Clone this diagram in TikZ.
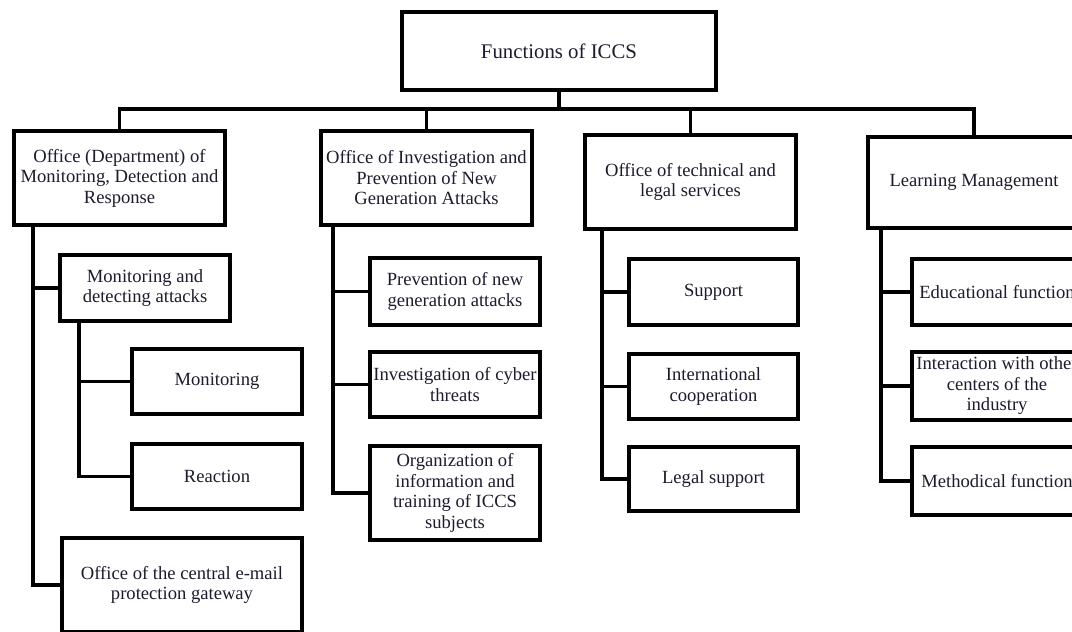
\documentclass[tikz,border=0pt]{standalone}
\usepackage{fontspec}
\setmainfont{Liberation Serif}
\usetikzlibrary{calc,shadows}
\definecolor{txt}{RGB}{28,28,45}
\definecolor{shd}{RGB}{170,190,230}
\begin{document}
\begin{tikzpicture}[x=1pt,y=-1pt,
  box/.style={draw=black, line width=4pt, fill=white, text=txt, align=center, inner sep=2pt,
    font=\fontsize{18.6}{20.5}\selectfont,
    drop shadow={opacity=0.35, fill=shd, shadow xshift=1.5pt, shadow yshift=-2pt}},
  link/.style={draw=black, line width=3.6pt, line cap=rect}]
\useasboundingbox (0,0) rectangle (1072,632);
\clip (0,0) rectangle (1072,632);
\fill[white] (0,0) rectangle (1072,632);

% top
\node[box, minimum width=314pt, minimum height=78pt, font=\fontsize{20.8}{23}\selectfont] (title) at (559,51) {Functions of ICCS};

% level 1
\node[box, minimum width=211pt, minimum height=94pt] (c1) at (119.5,178) {Office (Department) of\\Monitoring, Detection and\\Response};
\node[box, minimum width=211pt, minimum height=94pt] (c2) at (426.5,178) {Office of Investigation and\\Prevention of New\\Generation Attacks};
\node[box, minimum width=211pt, minimum height=94pt] (c3) at (690.5,182) {Office of technical and\\legal services};
\node[box, minimum width=212pt, minimum height=91pt] (c4) at (974,182.5) {Learning Management};

% column 1
\node[box, minimum width=170pt, minimum height=66pt] (m1) at (145,288) {Monitoring and\\detecting attacks};
\node[box, minimum width=170pt, minimum height=65pt] (mon) at (217,381.5) {Monitoring};
\node[box, minimum width=170pt, minimum height=65pt] (rea) at (217,476.5) {Reaction};
\node[box, minimum width=240pt, minimum height=94pt] (email) at (182,585) {Office of the central e-mail\\protection gateway};

% column 2
\node[box, minimum width=170pt, minimum height=67pt] (p1) at (455,291.5) {Prevention of new\\generation attacks};
\node[box, minimum width=170pt, minimum height=65pt] (p2) at (455,384.5) {Investigation of cyber\\threats};
\node[box, minimum width=170pt, minimum height=94pt] (p3) at (455,493) {Organization of\\information and\\training of ICCS\\subjects};

% column 3
\node[box, minimum width=169pt, minimum height=66pt] (s1) at (713.5,292) {Support};
\node[box, minimum width=169pt, minimum height=65pt] (s2) at (713.5,386.5) {International\\cooperation};
\node[box, minimum width=169pt, minimum height=64pt] (s3) at (713.5,479) {Legal support};

% column 4
\node[box, minimum width=170pt, minimum height=66pt] (l1) at (997,292) {Educational function};
\node[box, minimum width=170pt, minimum height=68pt] (l2) at (997,386) {Interaction with other\\centers of the\\industry};
\node[box, minimum width=170pt, minimum height=68pt] (l3) at (997,481) {Methodical function};

% trunk coordinates
\coordinate (bus) at (559,109);
\coordinate (t1) at (33,0);
\coordinate (t1b) at (79,0);
\coordinate (t2) at (333,0);
\coordinate (t3) at (602,0);
\coordinate (t4) at (881,0);

% top bus
\draw[link] (title.south) -- (bus);
\draw[link] (c1.north) -- (c1.north |- bus) -- (c4.north |- bus) -- (c4.north);
\draw[link] (c2.north) -- (c2.north |- bus);
\draw[link] (c3.north) -- (c3.north |- bus);

% column 1
\draw[link] (c1.south -| t1) |- (email.west);
\draw[link] (m1.west) -- (m1.west -| t1);
\draw[link] (m1.south -| t1b) |- (rea.west);
\draw[link] (mon.west) -- (mon.west -| t1b);

% column 2
\draw[link] (c2.south -| t2) |- (p3.west);
\draw[link] (p1.west) -- (p1.west -| t2);
\draw[link] (p2.west) -- (p2.west -| t2);

% column 3
\draw[link] (c3.south -| t3) |- (s3.west);
\draw[link] (s1.west) -- (s1.west -| t3);
\draw[link] (s2.west) -- (s2.west -| t3);

% column 4
\draw[link] (c4.south -| t4) |- (l3.west);
\draw[link] (l1.west) -- (l1.west -| t4);
\draw[link] (l2.west) -- (l2.west -| t4);
\end{tikzpicture}
\end{document}
